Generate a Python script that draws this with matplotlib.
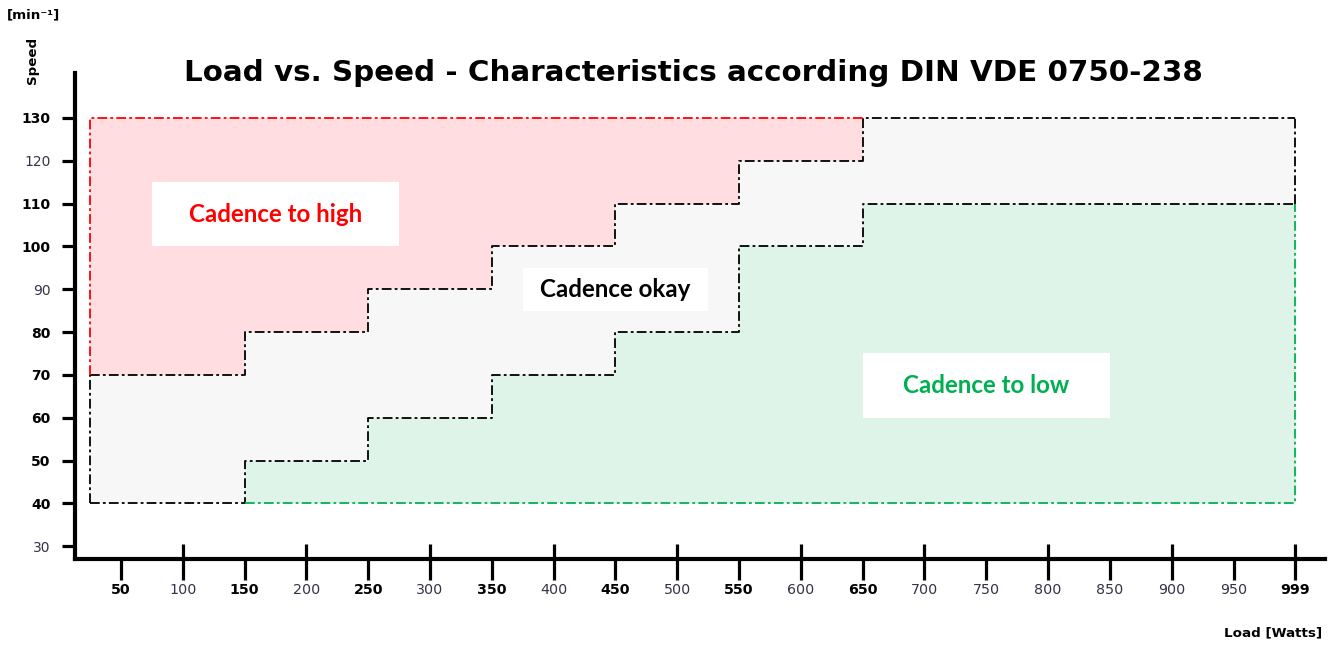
import matplotlib
matplotlib.use("Agg")
import matplotlib.pyplot as plt
from matplotlib.patches import Rectangle

# ---- data ----
x_edges = [25, 150, 250, 350, 450, 550, 650, 1000]
upper_limit = [70, 80, 90, 100, 110, 120, 130]
lower_limit = [40, 50, 60, 70, 80, 100, 110]
speed_min, speed_max = 40, 130
x_ticks_long = [100, 200, 300, 400, 500, 600, 700, 800, 900, 1000]
x_ticks_all = [50, 100, 150, 200, 250, 300, 350, 400, 450, 500, 550, 600, 650,
               700, 750, 800, 850, 900, 950, 1000]
x_tick_labels = ["50", "100", "150", "200", "250", "300", "350", "400", "450", "500",
                 "550", "600", "650", "700", "750", "800", "850", "900", "950", "999"]
x_bold = ["50", "150", "250", "350", "450", "550", "650", "999"]
y_ticks = [30, 40, 50, 60, 70, 80, 90, 100, 110, 120, 130]
y_bold = [40, 50, 60, 70, 80, 100, 110, 130]
zones = [("Cadence to high", 75, 100, 275, 115, "#ff0000"),
         ("Cadence okay", 375, 85, 525, 95, "#000000"),
         ("Cadence to low", 650, 60, 850, 75, "#00b050")]

plt.rcParams['lines.scale_dashes'] = False
W, H = 1333, 645
fig = plt.figure(figsize=(W / 100, H / 100), dpi=100)
ax = fig.add_axes([75 / W, (H - 559) / H, (1325 - 75) / W, (559 - 73) / H])
ax.set_xlim(12.8, 1024)
ax.set_ylim(27, 140.5)

up = upper_limit + [upper_limit[-1]]
lo = lower_limit + [lower_limit[-1]]
ax.fill_between(x_edges, up, speed_max, step='post', color='#ffdde0', lw=0, zorder=1)
ax.fill_between(x_edges, lo, up, step='post', color='#f7f7f7', lw=0, zorder=1)
ax.fill_between(x_edges, speed_min, lo, step='post', color='#dff4e8', lw=0, zorder=1)

dash = (7, 2.3, 2, 2.3)
kw = dict(lw=1.3, dashes=dash, zorder=3)
ax.step(x_edges, up, where='post', color='black', **kw)
ax.step(x_edges, lo, where='post', color='black', **kw)
# red zone outer edges
ax.plot([x_edges[0], x_edges[0], x_edges[-2]], [upper_limit[0], speed_max, speed_max], color='#ff0000', **kw)
# green zone outer edges
ax.plot([x_edges[1], x_edges[-1], x_edges[-1]], [speed_min, speed_min, lower_limit[-1]], color='#00b050', **kw)
# grey zone outer edges
ax.plot([x_edges[0], x_edges[0]], [speed_min, upper_limit[0]], color='black', **kw)
ax.plot([x_edges[-1], x_edges[-1]], [lower_limit[-1], speed_max], color='black', **kw)

for text, x0, y0, x1, y1, c in zones:
    ax.add_patch(Rectangle((x0, y0), x1 - x0, y1 - y0, facecolor='white', edgecolor='none', zorder=4))
    ax.text((x0 + x1) / 2, (y0 + y1) / 2, text, color=c, fontsize=17.4, fontweight='bold',
            family='Lato', ha='center', va='center', zorder=5)

for s in ['top', 'right']:
    ax.spines[s].set_visible(False)
for s in ['left', 'bottom']:
    ax.spines[s].set_linewidth(3)
ax.spines['left'].set_bounds(27, 140.5)

ax.set_yticks(y_ticks)
ax.set_yticklabels([str(v) for v in y_ticks])
ax.tick_params(axis='y', direction='out', length=9.5, width=2.3, pad=8, labelsize=10)
for lab, v in zip(ax.get_yticklabels(), y_ticks):
    if v in y_bold:
        lab.set_fontweight('bold'); lab.set_color('black')
    else:
        lab.set_color('#33334a')

ax.set_xticks(x_ticks_all)
ax.set_xticklabels(x_tick_labels)
ax.set_xticks(x_ticks_long, minor=True)
ax.xaxis.remove_overlapping_locs = False
ax.tick_params(axis='x', which='major', direction='out', length=15, width=2.3, pad=2, labelsize=10.3)
ax.tick_params(axis='x', which='minor', direction='in', length=10.5, width=2.3)
for lab in ax.get_xticklabels():
    if lab.get_text() in x_bold:
        lab.set_fontweight('bold'); lab.set_color('black')
    else:
        lab.set_color('#33334a')

fig.text(693 / W, 1 - 73 / H, "Load vs. Speed - Characteristics according DIN VDE 0750-238",
         fontsize=21.2, fontweight='bold', ha='center', va='center')
fig.text(33 / W, 1 - 60 / H, "Speed", rotation=90, fontsize=9.6, fontweight='bold', ha='center', va='center')
fig.text(34 / W, 1 - 15 / H, "[min⁻¹]", fontsize=9.6, fontweight='bold', ha='center', va='center')
fig.text(1322 / W, 1 - 633 / H, "Load [Watts]", fontsize=9.7, fontweight='bold', ha='right', va='center')

fig.savefig("out.png", dpi=100)
